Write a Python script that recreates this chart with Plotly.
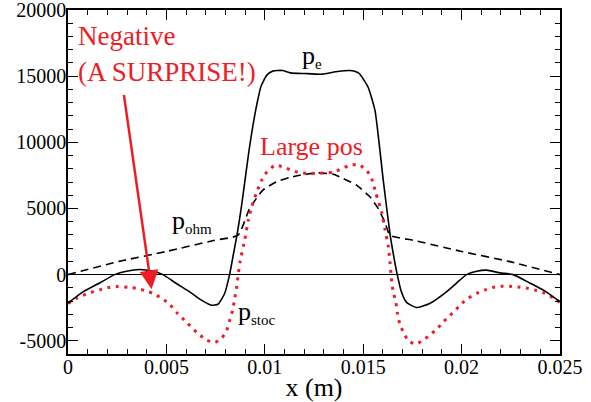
import plotly.graph_objects as go

# p_e (solid black)
x_pe = [0, 0.00076, 0.00161, 0.00237, 0.00297, 0.00364, 0.00432, 0.00483, 0.00551, 0.00618,
        0.00678, 0.00729, 0.00762, 0.00796, 0.00821, 0.0084, 0.0086, 0.0088, 0.009, 0.0092,
        0.0094, 0.0096, 0.0098, 0.0101, 0.0104, 0.0109, 0.0113, 0.012, 0.0129, 0.0137,
        0.0143, 0.0146, 0.0148, 0.01524, 0.0156, 0.01602, 0.01636, 0.01655, 0.01673, 0.01694,
        0.0172, 0.0177, 0.01838, 0.01923, 0.01991, 0.02025, 0.02077, 0.02128, 0.02195, 0.02262,
        0.02346, 0.0243, 0.025]
y_pe = [-2150, -1300, -630, 0, 260, 385, 260, 0, -670, -1300,
        -1930, -2310, -2240, -1430, 0, 1500, 3100, 5000, 7200, 9400,
        11300, 12900, 14200, 15080, 15380, 15430, 15250, 15200, 15150, 15350,
        15430, 15350, 15200, 14200, 12400, 7120, 3100, 1400, 0, -1300,
        -2100, -2490, -2180, -1300, -420, 0, 260, 340, 130, 0,
        -630, -1300, -2060]

# p_ohm (dashed black)
x_ohm = [0, 0.0026, 0.005, 0.0074, 0.00864, 0.00923, 0.0099, 0.01059, 0.01127, 0.01178,
         0.01263, 0.01348, 0.01399, 0.01466, 0.01534, 0.01576, 0.0161, 0.01636, 0.0176, 0.02,
         0.0224, 0.025]
y_ohm = [0, 1000, 1750, 2580, 2980, 5000, 6380, 7010, 7340, 7510,
         7690, 7590, 7260, 6760, 5880, 5000, 3980, 2980, 2580, 1750,
         1000, 0]

# p_stoc (red dotted)
x_st = [0, 0.00044, 0.001, 0.00163, 0.00213, 0.00256, 0.00307, 0.00349, 0.0039, 0.00433,
        0.00476, 0.0051, 0.00552, 0.00603, 0.00654, 0.00705, 0.00747, 0.00781, 0.00806, 0.00823,
        0.00836, 0.00848, 0.00857, 0.00865, 0.00874, 0.00899, 0.00916, 0.00933, 0.00959, 0.00984,
        0.0101, 0.01052, 0.01094, 0.01136, 0.01179, 0.01263, 0.01348, 0.0139, 0.01433, 0.01475,
        0.01518, 0.01543, 0.01565, 0.01594, 0.0161, 0.01627, 0.01633, 0.01645, 0.01653, 0.01666,
        0.01673, 0.01687, 0.01707, 0.01729, 0.01768, 0.01806, 0.0184, 0.01877, 0.01908, 0.01939,
        0.01971, 0.02001, 0.02035, 0.02077, 0.02119, 0.02162, 0.02204, 0.02246, 0.02297, 0.02339,
        0.02382, 0.02424, 0.02467, 0.025]
y_st = [-2170, -1800, -1420, -1140, -960, -900, -960, -1040, -1210, -1420,
        -1800, -2140, -2860, -3610, -4370, -4950, -5130, -4800, -4240, -3360,
        -2730, -1720, -960, 0, 940, 2700, 4090, 5100, 6240, 7120,
        7750, 8260, 8130, 7880, 7700, 7650, 7750, 8000, 8260, 8330,
        7880, 7250, 6110, 4720, 3460, 2200, 1440, -580, -1340, -2100,
        -2860, -3790, -4420, -5000, -5250, -4950, -4550, -4070, -3560, -3110,
        -2650, -2180, -1770, -1420, -1160, -960, -880, -880, -960, -1040,
        -1210, -1420, -1770, -2100]

x_ticks = [0, 0.005, 0.01, 0.015, 0.02, 0.025]
x_ticklabels = ["0", "0.005", "0.01", "0.015", "0.02", "0.025"]
y_ticks = [-5000, 0, 5000, 10000, 15000, 20000]
y_ticklabels = ["-5000", "0", "5000", "10000", "15000", "20000"]

FONT = "Liberation Serif"
RED = "#ee1c24"

fig = go.Figure()
fig.add_trace(go.Scatter(x=x_ohm, y=y_ohm, mode="lines",
                         line=dict(color="black", width=1.6, dash="8px,5px", shape="spline", smoothing=0.5)))
fig.add_trace(go.Scatter(x=x_st, y=y_st, mode="lines",
                         line=dict(color=RED, width=3, dash="3px,5.5px", shape="spline", smoothing=0.5)))
fig.add_trace(go.Scatter(x=x_pe, y=y_pe, mode="lines",
                         line=dict(color="black", width=1.6, shape="spline", smoothing=0.5)))

axis_common = dict(showline=True, linecolor="black", linewidth=1.5, mirror="ticks",
                   ticks="inside", ticklen=10, tickwidth=1.3, tickcolor="black",
                   showgrid=False, automargin=False, ticklabeloverflow="allow",
                   tickfont=dict(family=FONT, size=20, color="black"))

fig.update_xaxes(range=[0, 0.025], tickvals=x_ticks, ticktext=x_ticklabels, zeroline=False,
                 ticklabelstandoff=-6,
                 minor=dict(ticks="inside", ticklen=5, tickwidth=1.2, tickcolor="black", dtick=0.001, tick0=0),
                 title=dict(text="x (m)", font=dict(family=FONT, size=26, color="black"), standoff=8),
                 **axis_common)
fig.update_yaxes(range=[-6000, 20000], tickvals=y_ticks, ticktext=y_ticklabels,
                 ticklabelstandoff=-4,
                 zeroline=True, zerolinecolor="black", zerolinewidth=1.2,
                 minor=dict(ticks="inside", ticklen=5, tickwidth=1.2, tickcolor="black", dtick=1000, tick0=0),
                 **axis_common)

ann = []
def lab(text, x, y, color="black", size=26, anchor="left"):
    ann.append(dict(text=text, x=x, y=y, xref="x", yref="y", showarrow=False,
                    xanchor=anchor, yanchor="middle", font=dict(family=FONT, size=size, color=color)))

lab("Negative", 0.00040, 18050, RED, 27)
lab("(A SURPRISE!)", 0.00040, 15350, RED, 27)
lab("Large pos", 0.00967, 9700, RED, 26)
lab("p<sub><span style='font-size:15px'>e</span></sub>", 0.0118, 16500)
lab("p<sub><span style='font-size:15px'>ohm</span></sub>", 0.00518, 4050)
lab("p<sub><span style='font-size:15px'>stoc</span></sub>", 0.00855, -2900)

ann.append(dict(x=0.00425, y=-1100, ax=0.00283, ay=13700, xref="x", yref="y", axref="x", ayref="y",
                showarrow=True, arrowhead=2, arrowsize=1.5, arrowwidth=2.5, arrowcolor=RED, text=""))

fig.update_layout(width=591, height=402, margin=dict(l=68, r=31, t=10, b=48),
                  paper_bgcolor="white", plot_bgcolor="white", showlegend=False,
                  font=dict(family=FONT, color="black"),
                  annotations=ann)

fig.write_html("out.html")
